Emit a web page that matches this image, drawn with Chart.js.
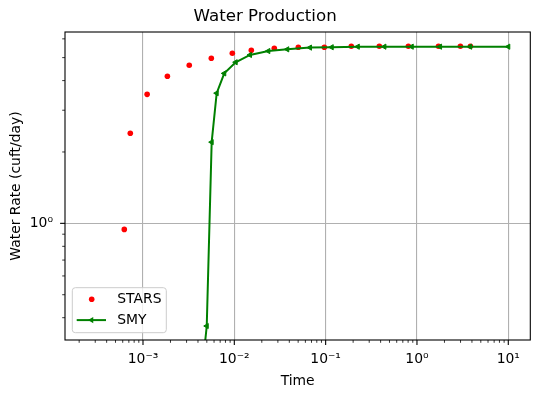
<!DOCTYPE html>
<html><head><meta charset="utf-8">
<script src="https://cdn.jsdelivr.net/npm/chart.js@4"></script>
<style>html,body{margin:0;padding:0;background:#fff;}#wrap{width:539px;height:398px;}</style>
</head><body><div id="wrap"><canvas id="c" width="539" height="398"></canvas></div>
<script>
const starsTime = [6.24e-4, 7.26e-4, 1.11e-3, 1.85e-3, 3.21e-3, 5.60e-3, 9.51e-3, 0.01535, 0.0274, 0.0502, 0.0968, 0.191, 0.387, 0.805, 1.72, 2.99, 3.85];
const starsRate = [0.943, 2.40, 3.50, 4.17, 4.64, 4.97, 5.22, 5.37, 5.48, 5.53, 5.53, 5.58, 5.58, 5.58, 5.58, 5.58, 5.58];
const smyTime = [4.5e-3, 4.99e-3, 5.65e-3, 6.41e-3, 7.76e-3, 0.01035, 0.01485, 0.02357, 0.038, 0.0674, 0.1166, 0.225, 0.440, 0.877, 1.79, 3.82, 10.0];
const smyRate = [0.25, 0.369, 2.20, 3.54, 4.29, 4.78, 5.13, 5.33, 5.42, 5.51, 5.53, 5.56, 5.56, 5.56, 5.56, 5.56, 5.56];
const xTickExponents = [-3, -2, -1, 0, 1];
const xTickLabels = ['10\u207B\u00B3', '10\u207B\u00B2', '10\u207B\u00B9', '10\u2070', '10\u00B9'];
const yTickExponents = [0];
const yTickLabels = ['10\u2070'];
const seriesNames = ['STARS', 'SMY'];
const titleText = 'Water Production';
const xTitle = 'Time';
const yTitle = 'Water Rate (cuft/day)';

const FONT = 'DejaVu Sans';
function isPow10(v){ if(!(v>0)) return false; const l=Math.log10(v); return Math.abs(l-Math.round(l))<1e-9; }
function labelFor(v, exps, labels){ if(!isPow10(v)) return ''; const i=exps.indexOf(Math.round(Math.log10(v))); return i>=0?labels[i]:''; }
const gridColor = (c) => (c.tick && isPow10(c.tick.value)) ? '#b0b0b0' : 'rgba(0,0,0,0)';

const decor = {
  id: 'decor',
  afterDraw(chart) {
    const ctx = chart.ctx, a = chart.chartArea;
    const xs = chart.scales.x, ys = chart.scales.y;
    ctx.save();
    ctx.strokeStyle = '#000';
    function ticksFor(scale, horizontal) {
      const lo = Math.log10(scale.min), hi = Math.log10(scale.max);
      for (let e = Math.floor(lo); e <= Math.ceil(hi); e++) {
        for (let m = 1; m <= 9; m++) {
          const v = m * Math.pow(10, e);
          if (v < scale.min || v > scale.max) continue;
          const p = scale.getPixelForValue(v);
          const major = m === 1;
          const len = major ? 4.9 : 2.8;
          ctx.lineWidth = major ? 1.1 : 0.8;
          ctx.beginPath();
          if (horizontal) { ctx.moveTo(p, a.bottom); ctx.lineTo(p, a.bottom + len); }
          else { ctx.moveTo(a.left, p); ctx.lineTo(a.left - len, p); }
          ctx.stroke();
        }
      }
    }
    ticksFor(xs, true);
    ticksFor(ys, false);
    ctx.lineWidth = 1.1;
    ctx.strokeRect(a.left, a.top, a.right - a.left, a.bottom - a.top);

    // legend
    const lw = 94, lh = 45;
    const lx = a.left + 7.3, ly = a.bottom - 7.3 - lh;
    ctx.beginPath();
    if (ctx.roundRect) ctx.roundRect(lx, ly, lw, lh, 3); else ctx.rect(lx, ly, lw, lh);
    ctx.fillStyle = 'rgba(255,255,255,0.8)';
    ctx.fill();
    ctx.strokeStyle = '#cccccc';
    ctx.lineWidth = 1;
    ctx.stroke();
    const ds = chart.data.datasets;
    const y1 = ly + 11.6, y2 = ly + 32.4;
    ctx.fillStyle = ds[0].pointBackgroundColor;
    ctx.beginPath(); ctx.arc(lx + 19.4, y1, ds[0].pointRadius, 0, Math.PI * 2); ctx.fill();
    ctx.strokeStyle = ds[1].borderColor; ctx.lineWidth = ds[1].borderWidth;
    ctx.beginPath(); ctx.moveTo(lx + 4.4, y2); ctx.lineTo(lx + 33.7, y2); ctx.stroke();
    ctx.fillStyle = ds[1].pointBackgroundColor;
    ctx.beginPath();
    {
      const r = ds[1].pointRadius + 0.5, cx = lx + 19.2;
      ctx.moveTo(cx - r, y2); ctx.lineTo(cx + r*0.5, y2 - r*0.866); ctx.lineTo(cx + r*0.5, y2 + r*0.866); ctx.closePath();
      ctx.fill();
    }
    ctx.fillStyle = '#000';
    ctx.font = '13.9px "' + FONT + '"';
    ctx.textBaseline = 'middle';
    ctx.textAlign = 'left';
    ctx.fillText(ds[0].label, lx + 45, y1);
    ctx.fillText(ds[1].label, lx + 45, y2);
    ctx.restore();
  }
};

new Chart(document.getElementById('c'), {
  type: 'scatter',
  data: {
    datasets: [
      { label: seriesNames[0], data: starsTime.map((t, i) => ({x: t, y: starsRate[i]})),
        showLine: false, pointStyle: 'circle', pointRadius: 2.8, pointBorderWidth: 0,
        pointBackgroundColor: '#ff0000', borderColor: '#ff0000', backgroundColor: '#ff0000', order: 2 },
      { label: seriesNames[1], data: smyTime.map((t, i) => ({x: t, y: smyRate[i]})),
        showLine: true, borderColor: '#008000', borderWidth: 2, tension: 0,
        pointStyle: 'triangle', pointRotation: -90, pointRadius: 3, pointBorderWidth: 1,
        pointBackgroundColor: '#008000', pointBorderColor: '#008000', backgroundColor: '#008000', order: 1 }
    ]
  },
  options: {
    responsive: false, animation: false, devicePixelRatio: 1, events: [],
    layout: { padding: { left: 0, right: 8.7, top: 0, bottom: 0 } },
    plugins: {
      legend: { display: false }, tooltip: { enabled: false },
      title: { display: true, text: titleText, color: '#000', font: { family: FONT, size: 16.67, weight: 'normal' }, padding: { top: 7, bottom: 5 } }
    },
    scales: {
      x: {
        type: 'logarithmic', bounds: 'data', min: Math.pow(10, -3.854), max: Math.pow(10, 1.241),
        afterFit: (s) => { s.height = 58; s.paddingLeft = 0; s.paddingRight = 0; },
        border: { display: false },
        grid: { drawTicks: false, color: gridColor, lineWidth: 1.1 },
        ticks: { autoSkip: false, maxRotation: 0, padding: 11, color: '#000', font: { family: FONT, size: 13.9 },
                 callback: (v) => labelFor(v, xTickExponents, xTickLabels) },
        title: { display: true, text: xTitle, color: '#000', font: { family: FONT, size: 13.9 }, padding: { top: 0, bottom: 8.5 } }
      },
      y: {
        type: 'logarithmic', bounds: 'data', min: Math.pow(10, -0.492), max: Math.pow(10, 0.807),
        afterFit: (s) => { s.width = 65; s.paddingTop = 0; s.paddingBottom = 0; },
        border: { display: false },
        grid: { drawTicks: false, color: gridColor, lineWidth: 1.1 },
        ticks: { autoSkip: false, padding: 12, color: '#000', font: { family: FONT, size: 13.9 },
                 callback: (v) => labelFor(v, yTickExponents, yTickLabels) },
        title: { display: true, text: yTitle, color: '#000', font: { family: FONT, size: 13.9 }, padding: { top: 8, bottom: 0 } }
      }
    }
  },
  plugins: [decor]
});
</script></body></html>
